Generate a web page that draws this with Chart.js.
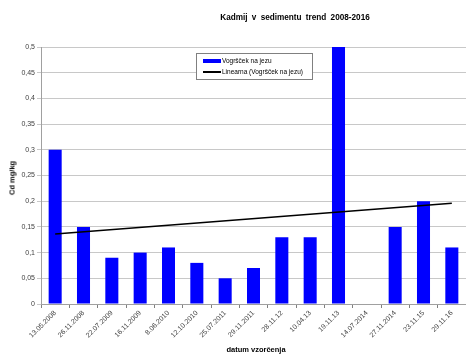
<!DOCTYPE html>
<html>
<head>
<meta charset="utf-8">
<script src="https://cdn.jsdelivr.net/npm/chart.js@4/dist/chart.umd.min.js"></script>
<style>
  body { margin: 0; background: #fff; }
  #wrap { position: relative; width: 466px; height: 356px; font-family: "Liberation Sans", Arial, sans-serif; }
  #wrap canvas { position: absolute; left: 0; top: 0; }
  .txt { position: absolute; font-weight: bold; color: #000; white-space: nowrap; }
  #title { left: 295px; top: 13px; transform: translateX(-50%); font-size: 8.2px; word-spacing: 2px; }
  #yTitle { left: 12px; top: 178px; transform: translate(-50%, -50%) rotate(-90deg); font-size: 7.5px; }
  #xTitle { left: 256px; top: 345px; transform: translateX(-50%); font-size: 7.5px; }
  #legend { position: absolute; left: 196px; top: 53px; width: 115px; height: 25px; background: #fff;
            border: 1px solid #808080; font-size: 6.5px; color: #000; }
  .item { position: absolute; left: 6px; height: 8px; line-height: 8px; }
  .item span.sw { position: absolute; left: 0; width: 18px; }
  .item span.lb { position: absolute; left: 19px; white-space: nowrap; }
</style>
</head>
<body>
<div id="wrap">
  <canvas id="chart" width="466" height="356"></canvas>
  <div id="title" class="txt">Kadmij  v sedimentu  trend  2008-2016</div>
  <div id="yTitle" class="txt">Cd mg/kg</div>
  <div id="xTitle" class="txt">datum vzorčenja</div>
  <div id="legend"></div>
</div>
<script>
// datumi vzorčenja in izmerjene vrednosti Cd (mg/kg)
const samplingDates = ['13.05.2008', '26.11.2008', '22.07.2009', '16.11.2009', '8.06.2010', '12.10.2010',
  '25.07.2011', '29.11.2011', '28.11.12', '10.04.13', '19.11.13', '14.07.2014', '27.11.2014', '23.11.15', '29.11.16'];
const cadmium = [0.3, 0.15, 0.09, 0.1, 0.11, 0.08, 0.05, 0.07, 0.13, 0.13, 0.5, null, 0.15, 0.2, 0.11];
// linearni trend: začetna in končna vrednost
const trendFirst = 0.136;
const trendLast = 0.196;
const yMin = 0, yMax = 0.5, yStep = 0.05;

const trend = samplingDates.map((d, i) => i === 0 ? trendFirst : (i === samplingDates.length - 1 ? trendLast : null));

const tickFont = { family: '"Liberation Sans", Arial, sans-serif', size: 7 };

const chart = new Chart(document.getElementById('chart'), {
  data: {
    labels: samplingDates,
    datasets: [
      {
        type: 'line',
        label: 'Linearna (Vogršček na jezu)',
        data: trend,
        borderColor: '#000',
        borderWidth: 1.5,
        pointRadius: 0,
        spanGaps: true,
        order: 0
      },
      {
        type: 'bar',
        label: 'Vogršček na jezu',
        data: cadmium,
        backgroundColor: '#0000ff',
        barPercentage: 0.46,
        categoryPercentage: 1,
        order: 1
      }
    ]
  },
  options: {
    responsive: false,
    animation: false,
    devicePixelRatio: 1,
    layout: { padding: { top: 47, right: 0, left: 0, bottom: 0 } },
    plugins: { legend: { display: false }, tooltip: { enabled: false } },
    scales: {
      x: {
        offset: true,
        grid: { display: true, drawOnChartArea: false, drawTicks: true, tickLength: 4, color: '#808080', offset: true },
        border: { display: true, color: '#a0a0a0' },
        ticks: { font: tickFont, color: '#404040', minRotation: 45, maxRotation: 45, autoSkip: false, padding: 1 },
        afterFit: s => { s.height = 52; }
      },
      y: {
        min: yMin,
        max: yMax,
        grid: { color: '#c8c8c8', tickLength: 4, lineWidth: 1 },
        border: { display: true, color: '#a0a0a0' },
        ticks: {
          stepSize: yStep,
          font: tickFont,
          color: '#404040',
          padding: 2,
          callback: v => String(Math.round(v * 100) / 100).replace('.', ',')
        },
        afterFit: s => { s.width = 41; }
      }
    }
  }
});

// legenda znotraj grafa, sestavljena iz podatkovnih nizov
const legendBox = document.getElementById('legend');
[chart.data.datasets[1], chart.data.datasets[0]].forEach((ds, i) => {
  const row = document.createElement('div');
  row.className = 'item';
  row.style.top = (i === 0 ? 3 : 14) + 'px';
  const sw = ds.type === 'bar'
    ? `<span class="sw" style="top:2px;height:4px;background:${ds.backgroundColor}"></span>`
    : `<span class="sw" style="top:3px;height:2px;background:${ds.borderColor}"></span>`;
  row.innerHTML = sw + `<span class="lb">${ds.label}</span>`;
  legendBox.appendChild(row);
});
</script>
</body>
</html>
